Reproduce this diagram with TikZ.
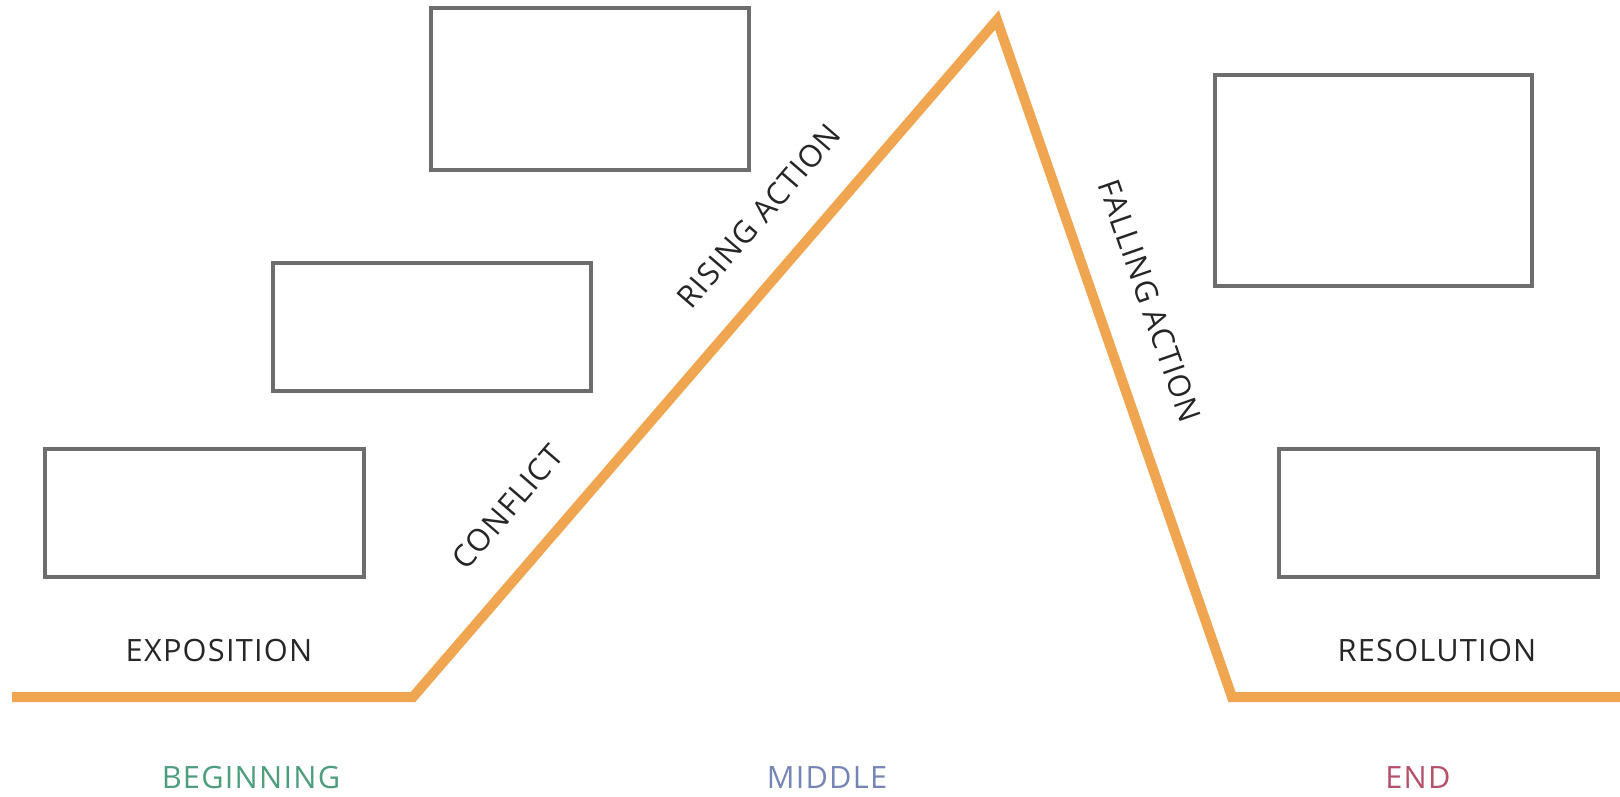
\documentclass[tikz,border=0pt]{standalone}
\usepackage{fontspec}
\setmainfont{Open Sans}[LetterSpace=4]
\usetikzlibrary{positioning}

\definecolor{plotorange}{HTML}{F0A650}
\definecolor{boxgray}{HTML}{6D6D6D}
\definecolor{labelblack}{HTML}{262626}
\definecolor{partgreen}{HTML}{4E9E7E}
\definecolor{partblue}{HTML}{7585B5}
\definecolor{partred}{HTML}{B5506A}

\begin{document}
\begin{tikzpicture}[x=0.02cm,y=-0.02cm]
			
			\tikzstyle{plotline} = [line width=0.2cm, draw=plotorange]
			\tikzstyle{box} = [rectangle, draw=boxgray, line width=0.07cm, inner sep=0pt]
			\tikzstyle{stage} = [text=labelblack, font=\fontsize{17.5}{20}\selectfont, inner sep=0pt]
			\tikzstyle{part} = [font=\fontsize{17.5}{20}\selectfont, inner sep=0pt]
			
			\useasboundingbox (0,0) rectangle (1620,796);
			
			% empty boxes
			\node (boxa) [box, minimum width=6.36cm, minimum height=3.24cm] at (590,89) {};
			\node (boxb) [box, minimum width=6.36cm, minimum height=2.56cm] at (432,327) {};
			\node (boxc) [box, minimum width=6.38cm, minimum height=2.56cm] at (204.5,513) {};
			\node (boxd) [box, minimum width=6.34cm, minimum height=4.22cm] at (1373.5,180.5) {};
			\node (boxe) [box, minimum width=6.38cm, minimum height=2.56cm] at (1438.5,513) {};
			
			% plot line
			\coordinate (start) at (12,697);
			\coordinate (climb) at (413,697);
			\coordinate (peak) at (997,20);
			\coordinate (drop) at (1232,697);
			\coordinate (finish) at (1620,697);
			
			\draw [plotline] (start) -- (climb)
				-- node (conflict) [stage, sloped, above=0.72cm, pos=0.23] {CONFLICT}
				node (rising) [stage, sloped, above=0.72cm, pos=0.66] {RISING ACTION} (peak)
				-- node (falling) [stage, sloped, above=0.72cm, pos=0.44] {FALLING ACTION} (drop)
				-- (finish);
			
			\node (exposition) [stage] at (219,650) {EXPOSITION};
			\node (resolution) [stage] at (1437,650) {RESOLUTION};
			
			% parts of the story
			\node (beginning) [part, text=partgreen] at (251,778) {BEGINNING};
			\node (middle) [part, text=partblue] at (827,778) {MIDDLE};
			\node (end) [part, text=partred] at (1418,778) {END};
			
		\end{tikzpicture}
\end{document}
